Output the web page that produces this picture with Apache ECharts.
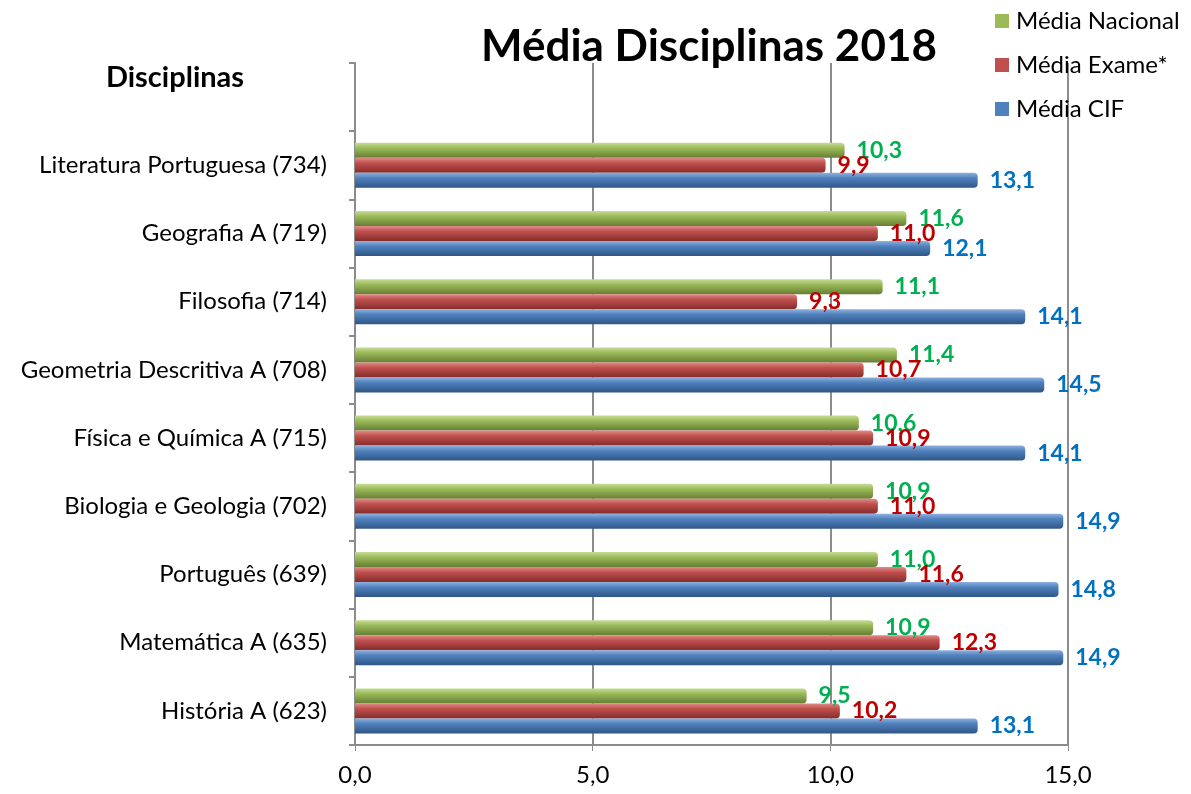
<!DOCTYPE html>
<html>
<head>
<meta charset="utf-8">
<script src="https://cdn.jsdelivr.net/npm/echarts@6/dist/echarts.min.js"></script>
<style>
  html, body { margin: 0; padding: 0; background: #fff; }
  #chart { width: 1191px; height: 794px; }
</style>
</head>
<body>
<div id="chart"></div>
<script>
  // categories from bottom to top (last one is the empty band at the top)
  var disciplinas = ['História A (623)', 'Matemática A (635)', 'Português (639)',
    'Biologia e Geologia (702)', 'Física e Química A (715)', 'Geometria Descritiva A (708)',
    'Filosofia (714)', 'Geografia A (719)', 'Literatura Portuguesa (734)', ''];
  var mediaNacional = [9.5, 10.9, 11.0, 10.9, 10.6, 11.4, 11.1, 11.6, 10.3];
  var mediaExame = [10.2, 12.3, 11.6, 11.0, 10.9, 10.7, 9.3, 11.0, 9.9];
  var mediaCIF = [13.1, 14.9, 14.8, 14.9, 14.1, 14.5, 14.1, 12.1, 13.1];

  var font = 'Lato, "Open Sans", sans-serif';

  function cyl(light, mid, dark) {
    return new echarts.graphic.LinearGradient(0, 0, 0, 1, [
      {offset: 0, color: light}, {offset: 0.35, color: mid}, {offset: 1, color: dark}
    ]);
  }
  function fmt(v) { return v.toFixed(1).replace('.', ','); }

  function serie(name, data, fill, lblColor) {
    return {
      name: name,
      type: 'bar',
      data: data,
      barWidth: 15,
      barGap: '0%',
      itemStyle: {color: fill, borderRadius: [0, 4, 4, 0]},
      label: {
        show: true, position: 'right', distance: 12,
        color: lblColor, fontFamily: font, fontWeight: 'bold', fontSize: 23,
        formatter: function (p) { return fmt(p.value); }
      }
    };
  }

  var chart = echarts.init(document.getElementById('chart'));
  chart.setOption({
    animation: false,
    title: [
      {text: 'Média Disciplinas 2018', left: 704, top: 20, textAlign: 'center',
        textStyle: {fontFamily: font, fontWeight: 'bold', fontSize: 44, color: '#000'}},
      {text: 'Disciplinas', left: 170, top: 58, textAlign: 'center',
        textStyle: {fontFamily: font, fontWeight: 'bold', fontSize: 29, color: '#000'}}
    ],
    legend: {
      orient: 'vertical', left: 990, top: 4, itemWidth: 14, itemHeight: 14, itemGap: 20,
      icon: 'rect',
      data: [
        {name: 'Média Nacional', itemStyle: {color: '#9bbb59'}},
        {name: 'Média Exame*', itemStyle: {color: '#c0504d'}},
        {name: 'Média CIF', itemStyle: {color: '#4f81bd'}}
      ],
      textStyle: {fontFamily: font, fontSize: 24, color: '#000', padding: [0, 0, 0, 2]}
    },
    grid: {left: 355, right: 123, top: 63, bottom: 49, containLabel: false},
    xAxis: {
      type: 'value', min: 0, max: 15, interval: 5,
      axisLine: {show: true, lineStyle: {color: '#8c8c8c', width: 2}},
      axisTick: {show: true, length: 6, lineStyle: {color: '#8c8c8c'}},
      splitLine: {show: true, lineStyle: {color: '#8c8c8c', width: 2}},
      axisLabel: {fontFamily: font, fontSize: 24, color: '#000', margin: 18, formatter: fmt}
    },
    yAxis: {
      type: 'category', data: disciplinas,
      axisLine: {show: true, lineStyle: {color: '#8c8c8c', width: 2}},
      axisTick: {show: true, length: 6, lineStyle: {color: '#8c8c8c', width: 2}},
      axisLabel: {fontFamily: font, fontSize: 24, color: '#000', margin: 28}
    },
    series: [
      serie('Média Nacional', mediaNacional, cyl('#c6dc96', '#9bbb59', '#667e34'), '#00b050'),
      serie('Média Exame*', mediaExame, cyl('#e08c8a', '#c0504d', '#852d2b'), '#c00000'),
      serie('Média CIF', mediaCIF, cyl('#8fb1de', '#4f81bd', '#2f5686'), '#0070c0')
    ]
  });
</script>
</body>
</html>
